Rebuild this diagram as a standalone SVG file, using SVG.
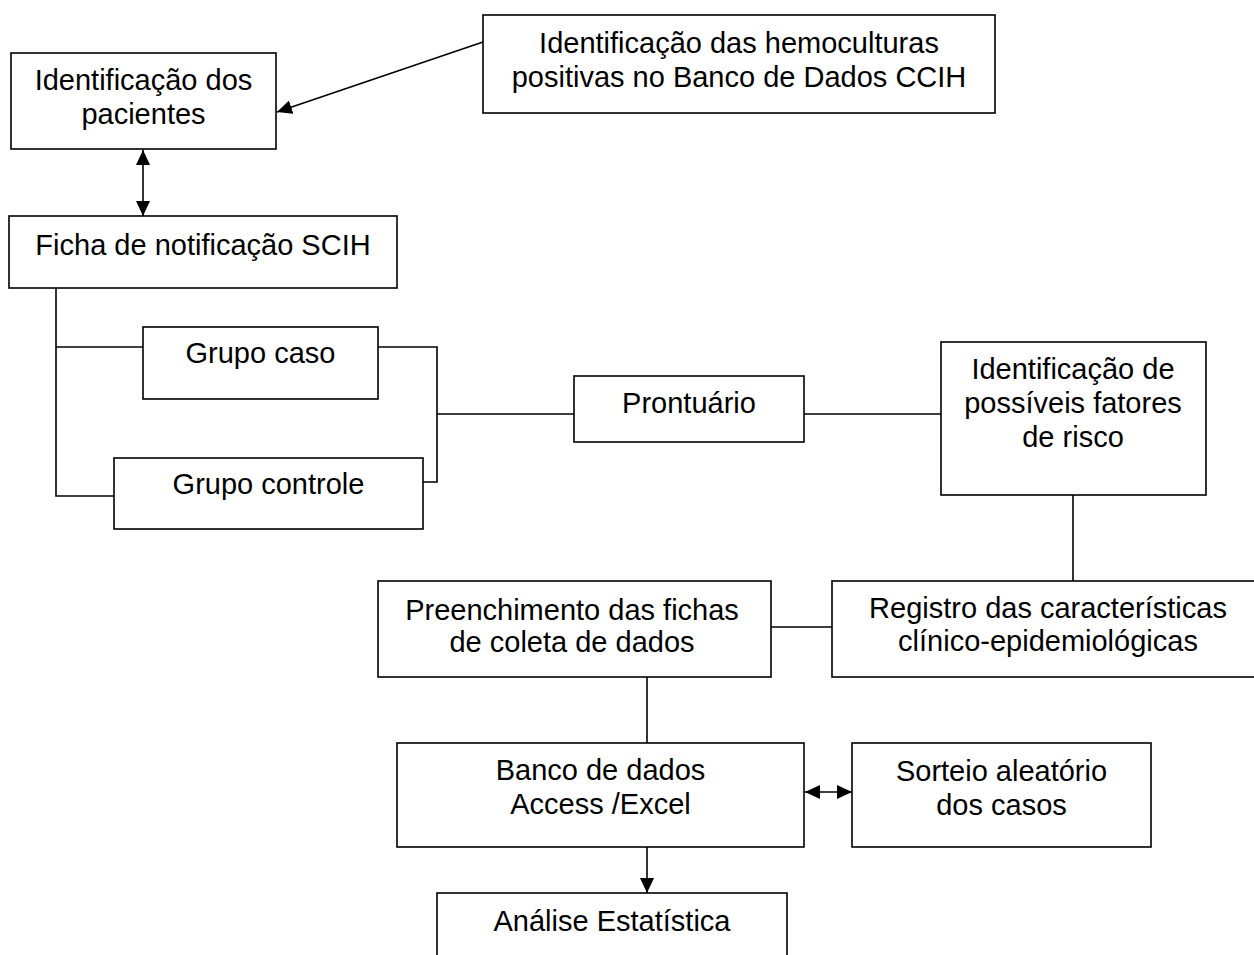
<svg xmlns="http://www.w3.org/2000/svg" width="1254" height="955" viewBox="0 0 1254 955">
<style>
.box{fill:#fff;stroke:#000;stroke-width:1.6}
.t{font-family:"Liberation Sans",Arial,sans-serif;font-size:29px;fill:#000;text-anchor:middle}
.c{fill:none;stroke:#000;stroke-width:1.6}
</style>
<defs>
<marker id="ah" viewBox="0 0 15 14" refX="15" refY="7" markerWidth="15" markerHeight="14" markerUnits="userSpaceOnUse" orient="auto-start-reverse">
<path d="M0,0 L15,7 L0,14 z" fill="#000"/>
</marker>
</defs>
<rect width="1254" height="955" fill="#fff"/>
<g id="connectors">
<path class="c" d="M483 42 L277 112" marker-end="url(#ah)"/>
<path class="c" d="M143 150 V216" marker-start="url(#ah)" marker-end="url(#ah)"/>
<path class="c" d="M56 288 V496 H114 M56 347 H143"/>
<path class="c" d="M378 347 H437 V482 H423 M437 414 H574"/>
<path class="c" d="M804 414 H941"/>
<path class="c" d="M1073 495 V581"/>
<path class="c" d="M771 627 H832"/>
<path class="c" d="M647 677 V743"/>
<path class="c" d="M647 847 V893" marker-end="url(#ah)"/>
<path class="c" d="M805 792 H852" marker-start="url(#ah)" marker-end="url(#ah)"/>
</g>
<g id="n-pacientes">
<rect class="box" x="11" y="53" width="265" height="96"/>
<text class="t" x="143.5" y="90">Identificação dos</text>
<text class="t" x="143.5" y="124">pacientes</text>
</g>
<g id="n-hemoculturas">
<rect class="box" x="483" y="15" width="512" height="98"/>
<text class="t" x="739" y="53">Identificação das hemoculturas</text>
<text class="t" x="739" y="87">positivas no Banco de Dados CCIH</text>
</g>
<g id="n-ficha">
<rect class="box" x="9" y="216" width="388" height="72"/>
<text class="t" x="203" y="255">Ficha de notificação SCIH</text>
</g>
<g id="n-caso">
<rect class="box" x="143" y="327" width="235" height="72"/>
<text class="t" x="260.5" y="363">Grupo caso</text>
</g>
<g id="n-controle">
<rect class="box" x="114" y="458" width="309" height="71"/>
<text class="t" x="268.5" y="494">Grupo controle</text>
</g>
<g id="n-prontuario">
<rect class="box" x="574" y="376" width="230" height="66"/>
<text class="t" x="689" y="413">Prontuário</text>
</g>
<g id="n-fatores">
<rect class="box" x="941" y="342" width="265" height="153"/>
<text class="t" x="1073" y="379">Identificação de</text>
<text class="t" x="1073" y="413">possíveis fatores</text>
<text class="t" x="1073" y="447">de risco</text>
</g>
<g id="n-registro">
<rect class="box" x="832" y="581" width="432" height="96"/>
<text class="t" x="1048" y="618">Registro das características</text>
<text class="t" x="1048" y="651">clínico-epidemiológicas</text>
</g>
<g id="n-preenchimento">
<rect class="box" x="378" y="581" width="393" height="96"/>
<text class="t" x="572" y="620">Preenchimento das fichas</text>
<text class="t" x="572" y="652">de coleta de dados</text>
</g>
<g id="n-banco">
<rect class="box" x="397" y="743" width="407" height="104"/>
<text class="t" x="600.5" y="780">Banco de dados</text>
<text class="t" x="600.5" y="814">Access /Excel</text>
</g>
<g id="n-sorteio">
<rect class="box" x="852" y="743" width="299" height="104"/>
<text class="t" x="1001.5" y="781">Sorteio aleatório</text>
<text class="t" x="1001.5" y="815">dos casos</text>
</g>
<g id="n-analise">
<rect class="box" x="437" y="893" width="350" height="80"/>
<text class="t" x="612" y="931">Análise Estatística</text>
</g>
</svg>
